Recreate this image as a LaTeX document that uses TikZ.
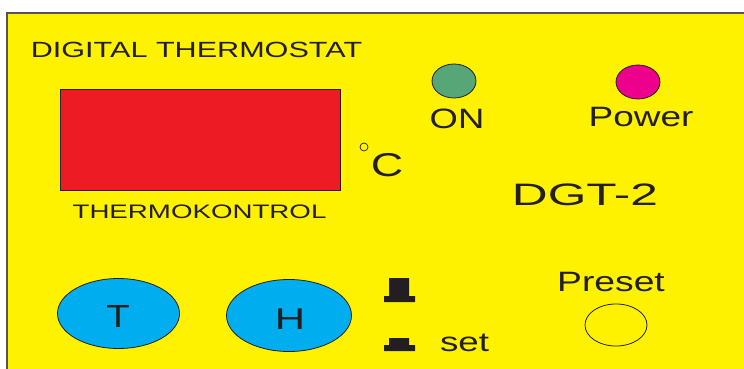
\documentclass[tikz,border=0pt]{standalone}
\usepackage{fontspec}
\setmainfont{Liberation Sans}
\usepackage{graphicx}
\usepackage{xcolor}
\usepackage{tikz}
\usetikzlibrary{shapes.geometric, positioning}
\definecolor{PanelYellow}{HTML}{FFF200}
\definecolor{DisplayRed}{HTML}{ED1C24}
\definecolor{KeyBlue}{HTML}{00AEEF}
\definecolor{LedGreen}{HTML}{57A677}
\definecolor{LedMagenta}{HTML}{EC008C}
\definecolor{InkDark}{HTML}{231F20}
\definecolor{EdgeGrey}{HTML}{555555}
% wide panel lettering: {stretch}{size}{text}
\newcommand{\paneltext}[3]{\scalebox{#1}[1]{\fontsize{#2}{#2}\selectfont #3}}

\begin{document}
\begin{tikzpicture}[
    x=1pt, y=-1pt,
    label/.style={anchor=base, inner sep=0pt, text=InkDark},
    led/.style={ellipse, draw=InkDark, line width=0.8pt, minimum width=44pt, minimum height=34pt, inner sep=0pt},
    keypad/.style={ellipse, draw=InkDark, fill=KeyBlue, line width=0.8pt, inner sep=0pt},
    keyicon/.style={fill=InkDark}
]

% Panel
\useasboundingbox (0,0) rectangle (744,369);
\fill[white] (0,0) rectangle (744,369);
\fill[PanelYellow] (7,13) rectangle (746,371);
\draw[EdgeGrey, line width=1.6pt] (7,371) -- (7,13) -- (746,13);

% Display
\node[label] (title) at (196.5,58) {\paneltext{1.39}{22}{DIGITAL THERMOSTAT}};
\node[draw=InkDark, fill=DisplayRed, line width=0.8pt, minimum width=280pt, minimum height=101pt, inner sep=0pt] (display) at (200,139.5) {};
\node[label] (brand) at (199.5,218) {\paneltext{1.42}{19.5}{THERMOKONTROL}};
\node[draw=InkDark, circle, line width=0.7pt, minimum size=8pt, inner sep=0pt] (deg) at (364,147) {};
\node[label] (unit) at (387,176) {\paneltext{1.36}{33}{C}};

% Lamps
\node[led, fill=LedGreen] (on) at (454,81) {};
\node[label] (onlbl) at (457,128) {\paneltext{1.3}{28}{ON}};
\node[led, fill=LedMagenta] (power) at (638,82) {};
\node[label] (powerlbl) at (641,126) {\paneltext{1.32}{28}{Power}};
\node[label] (model) at (585,205) {\paneltext{1.6}{31}{DGT-2}};

% Keys
\node[keypad, minimum width=122pt, minimum height=70pt] (keyT) at (118.5,313.5) {};
\node[label] at (118,327) {\paneltext{1.2}{32}{T}};
\node[keypad, minimum width=125pt, minimum height=72pt] (keyH) at (289,315.5) {};
\node[label] at (290,329) {\paneltext{1.4}{30}{H}};

% Set switch
\fill[keyicon] (389,278) rectangle (409,297) (384,296) rectangle (415,302);
\fill[keyicon] (389,338) rectangle (409,346) (384,345) rectangle (415,351);
\node[label] (setlbl) at (464.5,351) {\paneltext{1.36}{27}{set}};

% Preset
\node[label] (presetlbl) at (611,291) {\paneltext{1.33}{28}{Preset}};
\node[ellipse, draw=InkDark, line width=0.8pt, minimum width=62pt, minimum height=42pt, inner sep=0pt] (preset) at (616,325) {};

\end{tikzpicture}
\end{document}
